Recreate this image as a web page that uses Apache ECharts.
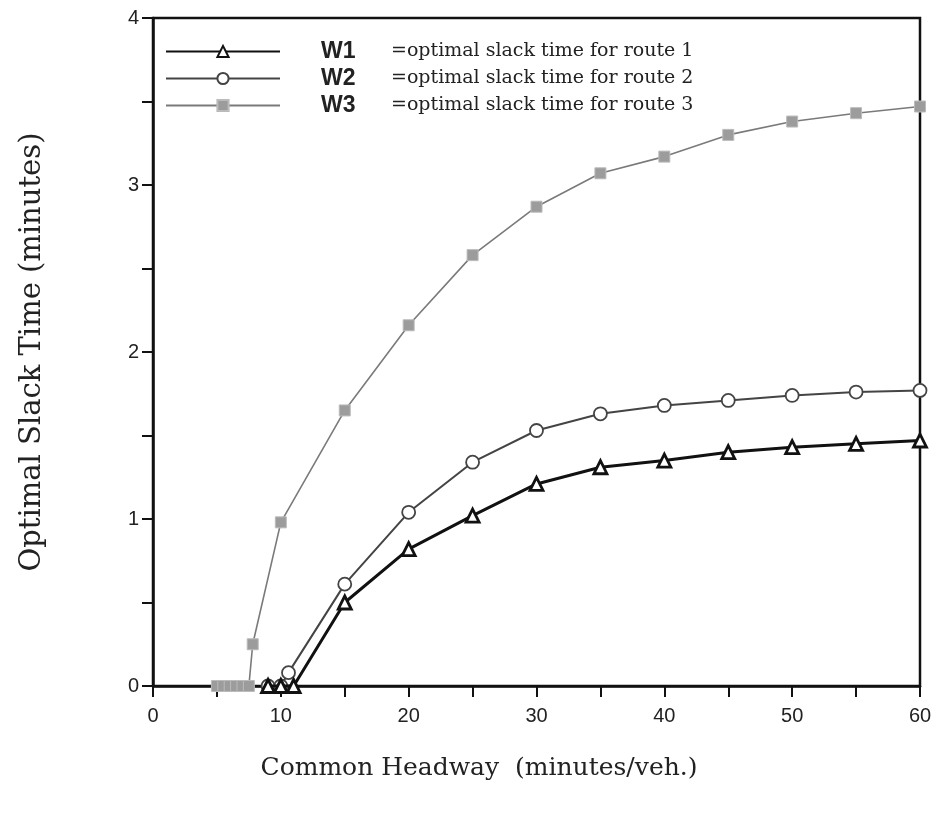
<!DOCTYPE html>
<html>
<head>
<meta charset="utf-8">
<script src="https://cdn.jsdelivr.net/npm/echarts@6/dist/echarts.min.js"></script>
<style>html,body{margin:0;padding:0;background:#fff;}#c{width:941px;height:824px;}</style>
</head>
<body>
<div id="c"></div>
<script>
// Headway (minutes/veh.) and optimal slack time (minutes)
const w1X = [9, 10, 11, 15, 20, 25, 30, 35, 40, 45, 50, 55, 60];
const w1Y = [0, 0, 0, 0.50, 0.82, 1.02, 1.21, 1.31, 1.35, 1.40, 1.43, 1.45, 1.47];
const w2X = [9, 10, 10.6, 15, 20, 25, 30, 35, 40, 45, 50, 55, 60];
const w2Y = [0, 0, 0.08, 0.61, 1.04, 1.34, 1.53, 1.63, 1.68, 1.71, 1.74, 1.76, 1.77];
const w3X = [5, 5.5, 6, 6.5, 7, 7.5, 7.8, 10, 15, 20, 25, 30, 35, 40, 45, 50, 55, 60];
const w3Y = [0, 0, 0, 0, 0, 0, 0.25, 0.98, 1.65, 2.16, 2.58, 2.87, 3.07, 3.17, 3.30, 3.38, 3.43, 3.47];
const seriesNames = ['W1', 'W2', 'W3'];
const seriesDesc = ['=optimal slack time for route 1', '=optimal slack time for route 2', '=optimal slack time for route 3'];
const xTicks = [0, 10, 20, 30, 40, 50, 60];
const yTicks = [0, 1, 2, 3, 4];

const pair = (xs, ys) => xs.map((x, i) => [x, ys[i]]);

const chart = echarts.init(document.getElementById('c'));
chart.setOption({
  backgroundColor: '#ffffff',
  animation: false,
  grid: { left: 153, right: 21, top: 18, bottom: 138, show: true, borderColor: '#111', borderWidth: 2.5, backgroundColor: 'transparent' },
  legend: {
    left: 160, top: 35, orient: 'vertical', itemWidth: 114, itemHeight: 14, itemGap: 4,
    data: seriesNames,
    formatter: function (name) {
      const i = seriesNames.indexOf(name);
      return '{w|' + name + '}{d|' + seriesDesc[i] + '}';
    },
    textStyle: {
      padding: [0, 0, 0, 36],
      rich: {
        w: { fontFamily: 'Liberation Sans', fontWeight: 'bold', fontSize: 23, color: '#222', width: 70, lineHeight: 22 },
        d: { fontFamily: 'DejaVu Serif', fontSize: 19, color: '#222', lineHeight: 22 }
      }
    }
  },
  xAxis: {
    type: 'value', min: 0, max: 60, interval: 10,
    name: 'Common Headway  (minutes/veh.)', nameLocation: 'middle', nameGap: 70,
    nameTextStyle: { fontFamily: 'DejaVu Serif', fontSize: 25, color: '#222', padding: [0, 115, 0, 0] },
    axisLine: { show: true, onZero: false, lineStyle: { color: '#111', width: 2.5 } },
    axisTick: { show: true, inside: false, length: 11, lineStyle: { color: '#111', width: 2 } },
    minorTick: { show: true, splitNumber: 2, length: 11, lineStyle: { color: '#111', width: 2 } },
    splitLine: { show: false },
    axisLabel: { fontFamily: 'Liberation Sans', fontSize: 20, color: '#222', margin: 20,
      formatter: v => xTicks.includes(v) ? String(v) : '' }
  },
  yAxis: {
    type: 'value', min: 0, max: 4, interval: 1,
    name: 'Optimal Slack Time (minutes)', nameLocation: 'middle', nameGap: 106, nameRotate: 90,
    nameTextStyle: { fontFamily: 'DejaVu Serif', fontSize: 29, color: '#222' },
    axisLine: { show: true, lineStyle: { color: '#111', width: 2.5 } },
    axisTick: { show: true, inside: false, length: 11, lineStyle: { color: '#111', width: 2 } },
    minorTick: { show: true, splitNumber: 2, length: 11, lineStyle: { color: '#111', width: 2 } },
    splitLine: { show: false },
    axisLabel: { fontFamily: 'Liberation Sans', fontSize: 20, color: '#222', margin: 14,
      formatter: v => yTicks.includes(v) ? String(v) : '' }
  },
  series: [
    {
      name: 'W1', type: 'line', data: pair(w1X, w1Y), z: 5,
      lineStyle: { color: '#111', width: 3 },
      symbol: 'triangle', symbolSize: 13, showAllSymbol: true,
      itemStyle: { color: '#fff', borderColor: '#111', borderWidth: 2.8 }
    },
    {
      name: 'W2', type: 'line', data: pair(w2X, w2Y), z: 4,
      lineStyle: { color: '#444', width: 2 },
      symbol: 'circle', symbolSize: 13, showAllSymbol: true,
      itemStyle: { color: '#fff', borderColor: '#444', borderWidth: 1.8 }
    },
    {
      name: 'W3', type: 'line', data: pair(w3X, w3Y), z: 3,
      lineStyle: { color: '#7a7a7a', width: 1.6 },
      symbol: 'rect', symbolSize: 11, showAllSymbol: true,
      itemStyle: { color: '#9c9c9c', borderColor: '#bbb', borderWidth: 1 }
    }
  ]
});
</script>
</body>
</html>
